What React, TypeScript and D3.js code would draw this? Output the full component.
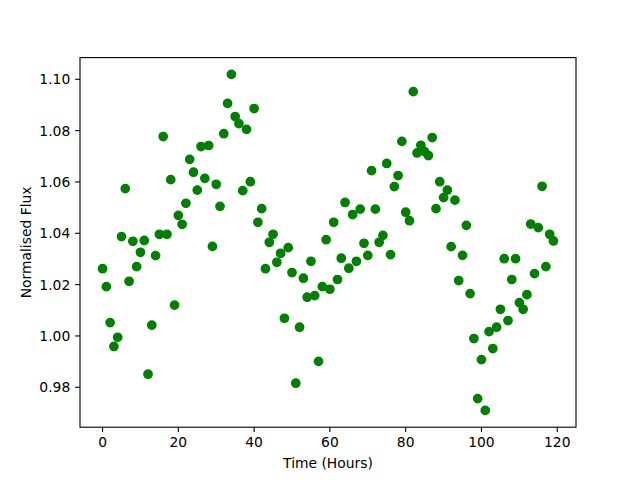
import React from "react";
import * as d3 from "d3";

const timeHours: number[] = d3.range(0, 120);
const flux: number[] = [
  1.0262, 1.0192, 1.0052, 0.9959, 0.9995, 1.0387, 1.0574, 1.0213, 1.0369, 1.027,
  1.0326, 1.0372, 0.9851, 1.0042, 1.0313, 1.0396, 1.0777, 1.0396, 1.0609, 1.012,
  1.047, 1.0435, 1.0517, 1.0688, 1.0638, 1.0568, 1.0738, 1.0614, 1.0742, 1.0349,
  1.0591, 1.0505, 1.0788, 1.0906, 1.1019, 1.0855, 1.0827, 1.0566, 1.0805, 1.0601,
  1.0886, 1.0443, 1.0496, 1.0262, 1.0365, 1.0396, 1.0287, 1.0322, 1.0069, 1.0344,
  1.0247, 0.9816, 1.0034, 1.0225, 1.0151, 1.0291, 1.0157, 0.9901, 1.0192, 1.0375,
  1.0182, 1.0443, 1.022, 1.0303, 1.052, 1.0264, 1.0473, 1.0291, 1.0494, 1.0361,
  1.0314, 1.0644, 1.0494, 1.0365, 1.0392, 1.0672, 1.0317, 1.0582, 1.0625, 1.0758,
  1.0482, 1.0449, 1.0952, 1.0713, 1.0743, 1.0718, 1.0703, 1.0773, 1.0496, 1.0601,
  1.0539, 1.0568, 1.0348, 1.0529, 1.0216, 1.0314, 1.0431, 1.0165, 0.999, 0.9756,
  0.9908, 0.971, 1.0017, 0.9951, 1.0034, 1.0104, 1.0301, 1.006, 1.022, 1.0301,
  1.013, 1.0104, 1.0161, 1.0436, 1.0243, 1.0422, 1.0583, 1.027, 1.0396, 1.037,
];
const xTicks: number[] = [0, 20, 40, 60, 80, 100, 120];
const yTicks: number[] = [0.98, 1.0, 1.02, 1.04, 1.06, 1.08, 1.1];
const xLabel = "Time (Hours)";
const yLabel = "Normalised Flux";

const W = 640;
const H = 480;
const L = 80;
const R = 576;
const T = 57.6;
const B = 427.2;

export default function App() {
  const xMin = d3.min(timeHours)!;
  const xMax = d3.max(timeHours)!;
  const xPad = (xMax - xMin) * 0.05;
  const yMin = d3.min(flux)!;
  const yMax = d3.max(flux)!;
  const yPad = (yMax - yMin) * 0.05;
  const x = d3.scaleLinear().domain([xMin - xPad, xMax + xPad]).range([L, R]);
  const y = d3.scaleLinear().domain([yMin - yPad, yMax + yPad]).range([B, T]);
  const font = "DejaVu Sans, sans-serif";
  const fs = 13.89;
  const tickLen = 4.86;
  return (
    <svg
      width={W}
      height={H}
      style={{ position: "absolute", left: 0, top: 0, background: "#fff" }}
      fontFamily={font}
    >
      <rect x={0} y={0} width={W} height={H} fill="#fff" />
      {timeHours.map((t, i) => (
        <circle
          key={i}
          cx={x(t)}
          cy={y(flux[i])}
          r={4.17}
          fill="#008000"
          stroke="#008000"
          strokeWidth={1.39}
        />
      ))}
      <rect x={L} y={T} width={R - L} height={B - T} fill="none" stroke="#000" strokeWidth={1.11} />
      {xTicks.map((t) => (
        <g key={"x" + t}>
          <line x1={x(t)} x2={x(t)} y1={B} y2={B + tickLen} stroke="#000" strokeWidth={1.11} />
          <text x={x(t)} y={B + tickLen + 4.86 + 10.3} fontSize={fs} textAnchor="middle" fill="#000">
            {t}
          </text>
        </g>
      ))}
      {yTicks.map((t) => (
        <g key={"y" + t}>
          <line x1={L - tickLen} x2={L} y1={y(t)} y2={y(t)} stroke="#000" strokeWidth={1.11} />
          <text x={L - tickLen - 4.86} y={y(t) + 5} fontSize={fs} textAnchor="end" fill="#000">
            {t.toFixed(2)}
          </text>
        </g>
      ))}
      <text x={(L + R) / 2} y={468} fontSize={fs} textAnchor="middle" fill="#000">
        {xLabel}
      </text>
      <text
        transform={`translate(31,${(T + B) / 2}) rotate(-90)`}
        fontSize={fs}
        textAnchor="middle"
        fill="#000"
      >
        {yLabel}
      </text>
    </svg>
  );
}
